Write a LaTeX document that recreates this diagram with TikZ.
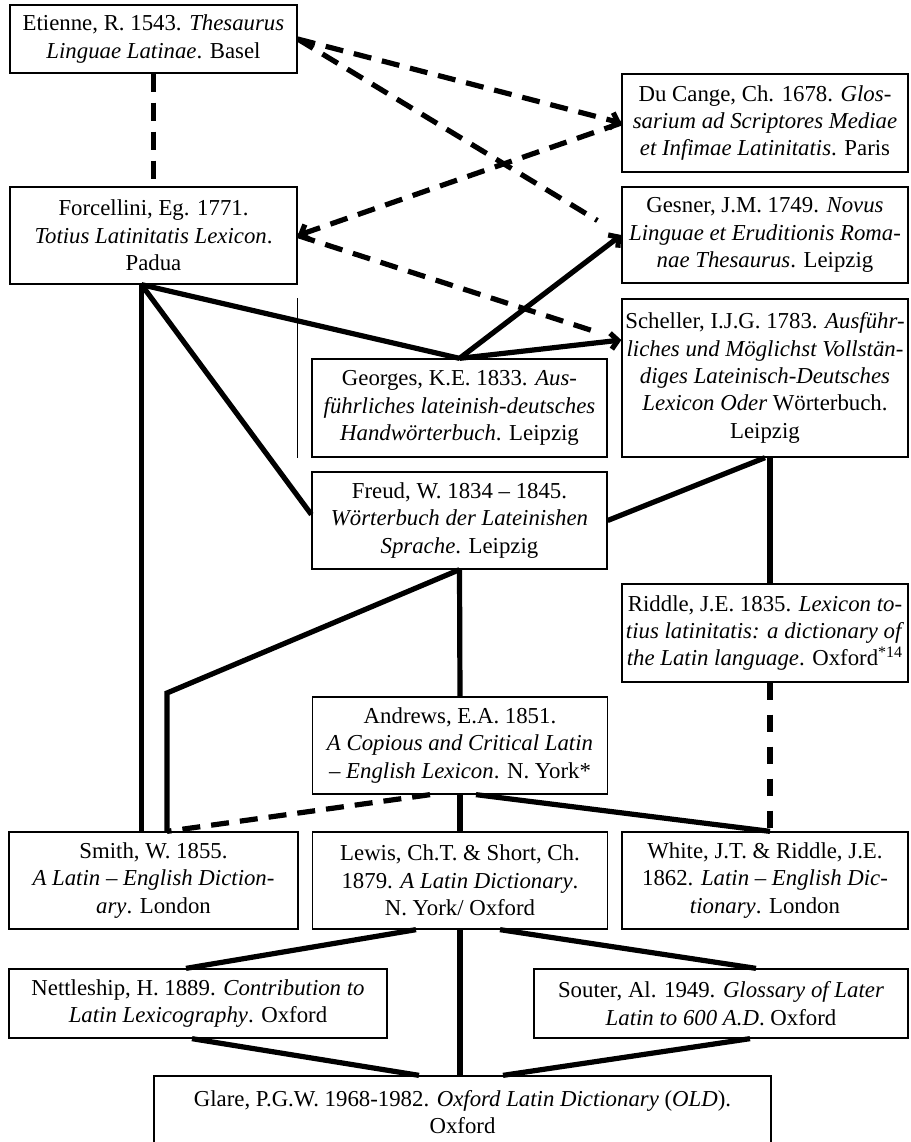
\documentclass[tikz,border=0pt]{standalone}
\usepackage{fontspec}
\setmainfont{Liberation Serif}
\usetikzlibrary{arrows.meta,positioning,calc}
\newcommand{\entryfont}{\fontsize{11.4}{13.7}\selectfont}

\begin{document}
\begin{tikzpicture}[
    x=0.5pt, y=-0.5pt,
    entry/.style={draw, line width=0.65pt, align=center, inner sep=1pt, font=\entryfont},
    leftcol/.style={entry, minimum width=143.5pt},
    midcol/.style={entry, minimum width=147.5pt},
    rightcol/.style={entry, minimum width=143pt},
    link/.style={line width=2.6pt},
    dashlink/.style={line width=2.6pt, dash pattern=on 9pt off 5.5pt},
    hairline/.style={line width=0.6pt},
    >={Straight Barb[length=3.5pt,width=8pt]}
]
\useasboundingbox (0,0) rectangle (911,1142);

% Left column
\node[leftcol, minimum height=34pt] (etienne) at (153.5,39)
    {Etienne, R. 1543. \textit{Thesaurus}\\ \textit{Linguae Latinae}. Basel};
\node[leftcol, minimum height=48.5pt] (forcellini) at (153.5,235.5)
    {Forcellini, Eg. 1771.\\ \textit{Totius Latinitatis Lexicon}.\\ Padua};

% Right column
\node[rightcol, minimum height=49pt] (ducange) at (765,123)
    {Du Cange, Ch. 1678. \textit{Glos-}\\ \textit{sarium ad Scriptores Mediae}\\ \textit{et Infimae Latinitatis}. Paris};
\node[rightcol, minimum height=48pt] (gesner) at (765,235)
    {Gesner, J.M. 1749. \textit{Novus}\\ \textit{Linguae et Eruditionis Roma-}\\ \textit{nae Thesaurus}. Leipzig};
\node[rightcol, minimum height=79pt] (scheller) at (765,378)
    {Scheller, I.J.G. 1783. \textit{Ausführ-}\\ \textit{liches und Möglichst Vollstän-}\\ \textit{diges Lateinisch-Deutsches}\\ \textit{Lexicon Oder} Wörterbuch.\\ Leipzig};
\node[rightcol, minimum height=49pt] (riddle) at (765,633)
    {Riddle, J.E. 1835. \textit{Lexicon to-}\\ \textit{tius latinitatis: a dictionary of}\\ \textit{the Latin language}. Oxford\textsuperscript{*14}};

% Middle column
\node[midcol, minimum height=49pt] (georges) at (459.5,408)
    {Georges, K.E. 1833. \textit{Aus-}\\ \textit{führliches lateinish-deutsches}\\ \textit{Handwörterbuch}. Leipzig};
\node[midcol, minimum height=48.5pt] (freud) at (459.5,520.5)
    {Freud, W. 1834 -- 1845.\\ \textit{Wörterbuch der Lateinishen}\\ \textit{Sprache}. Leipzig};
\node[midcol, minimum height=48.5pt] (andrews) at (460,745.5)
    {Andrews, E.A. 1851.\\ \textit{A Copious and Critical Latin}\\ -- \textit{English Lexicon}. N. York*};

% English dictionaries
\node[leftcol, minimum width=144.5pt, minimum height=48.5pt] (smith) at (153.5,880.5)
    {Smith, W. 1855.\\ \textit{A Latin -- English Diction-}\\ \textit{ary}. London};
\node[midcol, minimum height=48.5pt] (lewis) at (460,880.5)
    {Lewis, Ch.T. \& Short, Ch.\\ 1879. \textit{A Latin Dictionary}.\\ N. York/ Oxford};
\node[rightcol, minimum height=48.5pt] (white) at (765,880.5)
    {White, J.T. \& Riddle, J.E.\\ 1862. \textit{Latin -- English Dic-}\\ \textit{tionary}. London};

% Bottom rows
\node[entry, minimum width=189pt, minimum height=34.5pt] (nettleship) at (198,1003.5)
    {Nettleship, H. 1889. \textit{Contribution to}\\ \textit{Latin Lexicography}. Oxford};
\node[entry, minimum width=187pt, minimum height=34.5pt] (souter) at (721,1003.5)
    {Souter, Al. 1949. \textit{Glossary of Later}\\ \textit{Latin to 600 A.D}. Oxford};
\node[entry, minimum width=308.5pt, minimum height=36pt] (glare) at (462.5,1112)
    {Glare, P.G.W. 1968-1982. \textit{Oxford Latin Dictionary} (\textit{OLD}).\\ Oxford};

% Helper points
\coordinate (forcfoot) at ([xshift=-6pt]forcellini.south);
\coordinate (schellerin) at ([yshift=19pt]scheller.west);
\coordinate (smithknee) at (167,693);

% Dashed links from the top
\draw[dashlink] (etienne) -- (forcellini);
\draw[dashlink, ->] (etienne.east) -- (ducange.west);
\draw[dashlink, shorten >=14pt] (etienne.east) -- (gesner.west);
\draw[dashlink, ->] (ducange.west) -- (forcellini.east);
\draw[dashlink, shorten >=14pt] (forcellini.east) -- (schellerin);

% Solid links from Forcellini
\draw[link] (forcfoot) -- (forcfoot |- smith.north);
\draw[link] (forcfoot) -- (georges.north);
\draw[link] (forcfoot) -- ([yshift=3pt]freud.west);
\draw[link, ->] (georges.north) -- (gesner.west);
\draw[link, ->] (georges.north) -- (schellerin);
\draw[hairline] (scheller.north -| forcellini.east) -- (georges.south -| forcellini.east);

% Scheller and Freud
\draw[link] (scheller.south) -- (freud.east);
\draw[link] ([xshift=2.5pt]scheller.south) -- ([xshift=2.5pt]riddle.north);
\draw[link] (freud.south) -- (andrews.north);
\draw[link] (freud.south) -- (smithknee) -- (smithknee |- smith.north);

% Andrews and Riddle
\draw[dashlink] ([xshift=-15pt]andrews.south) -- (smithknee |- smith.north);
\draw[link] (andrews.south) -- (lewis.north);
\draw[link] ([xshift=8pt]andrews.south) -- ([xshift=2.5pt]white.north);
\draw[dashlink, dash pattern=on 8.5pt off 7.5pt] ([xshift=2.5pt]riddle.south) -- ([xshift=2.5pt]white.north);

% Lewis down to Glare
\draw[link] ([xshift=-22pt]lewis.south) -- ([xshift=-6pt]nettleship.north);
\draw[link] ([xshift=20pt]lewis.south) -- ([xshift=17.5pt]souter.north);
\draw[link] (lewis.south) -- (lewis.south |- glare.north);
\draw[link] ([xshift=-3pt]nettleship.south) -- ([xshift=-21.75pt]glare.north);
\draw[link] ([xshift=14.5pt]souter.south) -- ([xshift=20.25pt]glare.north);
\end{tikzpicture}
\end{document}
